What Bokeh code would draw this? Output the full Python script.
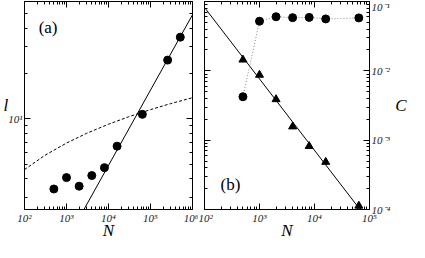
from bokeh.plotting import figure
from bokeh.layouts import row
from bokeh.models import LogAxis, FixedTicker, CustomJSTickFormatter, Label
from bokeh.embed import file_html
from bokeh.resources import INLINE

# ---------------- data: panel (a) ----------------
N_a = [500, 1000, 2000, 4000, 8000, 16000, 64000, 256000, 512000]
l_a = [3.42, 4.07, 3.57, 4.2, 4.74, 6.58, 10.7, 24.5, 34.8]
# fitted power law (solid)
fit_a_N = [2600, 1e6]
fit_a_l = [2.5, 49]
# dashed reference curve
ref_a_N = [1e2, 3e2, 1e3, 3e3, 1e4, 3e4, 1e5, 3e5, 1e6]
ref_a_l = [4.6, 5.7, 6.9, 8.0, 9.2, 10.3, 11.5, 12.6, 13.8]

# ---------------- data: panel (b) ----------------
N_b = [500, 1000, 2000, 4000, 8000, 16000, 64000]
C_circ = [0.00423, 0.052, 0.0603, 0.0585, 0.059, 0.0561, 0.058]
C_tri = [0.01445, 0.00873, 0.00388, 0.00157, 0.00082, 0.000484, 0.000113]
fit_b_N = [100, 67300]
fit_b_C = [0.082, 1e-4]

# ---------------- ticks ----------------
xa_ticks = [1e2, 1e3, 1e4, 1e5, 1e6]
xa_labels = ["10²", "10³", "10⁴", "10⁵", "10⁶"]
ya_ticks = [10]
ya_labels = ["10¹"]
ya_minor = [3, 4, 5, 6, 7, 8, 9, 20, 30, 40, 50]
xb_ticks = [1e2, 1e3, 1e4, 1e5]
xb_labels = ["10²", "10³", "10⁴", "10⁵"]
yb_ticks = [1e-4, 1e-3, 1e-2, 1e-1]
yb_labels = ["10⁻⁴", "10⁻³", "10⁻²", "10⁻¹"]

SERIF = "Liberation Serif"


def minors(lo_exp, hi_exp):
    return [m * 10.0 ** e for e in range(lo_exp, hi_exp) for m in range(2, 10)]


def fmt(tks, lbls):
    return CustomJSTickFormatter(args=dict(tks=tks, lbls=lbls), code="""
        let best = 0, bd = Infinity;
        for (let i = 0; i < tks.length; i++) {
            const d = Math.abs(Math.log10(tick) - Math.log10(tks[i]));
            if (d < bd) { bd = d; best = i; }
        }
        return bd < 0.01 ? lbls[best] : "";
    """)


def style_axis(ax, ticker, formatter, show_labels=True):
    ax.ticker = ticker
    ax.formatter = formatter
    ax.axis_line_color = "black"
    ax.major_tick_line_color = "black"
    ax.minor_tick_line_color = "black"
    ax.major_tick_in = 6
    ax.major_tick_out = 0
    ax.minor_tick_in = 3
    ax.minor_tick_out = 0
    ax.major_label_text_font = SERIF
    ax.major_label_text_font_style = "italic"
    ax.major_label_text_font_size = "11px" if show_labels else "0px"
    ax.major_label_text_color = "#222222"
    ax.major_label_standoff = 2 if show_labels else 0
    ax.axis_label_text_font = SERIF
    ax.axis_label_text_font_style = "italic"
    ax.axis_label_text_font_size = "17px"
    ax.axis_label_text_color = "black"
    ax.axis_label_standoff = 2


def base_fig(w, h, xr, yr, **kw):
    p = figure(width=w, height=h, x_axis_type="log", y_axis_type="log",
               x_range=xr, y_range=yr, output_backend="svg",
               toolbar_location=None, **kw)
    p.grid.visible = False
    p.outline_line_color = "black"
    p.outline_line_width = 1
    p.background_fill_color = "white"
    p.border_fill_color = "white"
    return p


def text_label(p, x, y, t, size):
    p.add_layout(Label(x=x, y=y, text=t, text_font=SERIF,
                       text_font_size=size, text_baseline="middle",
                       text_align="left", text_color="black"))


# ---------------- panel (a) ----------------
pa = base_fig(198, 242, (1e2, 1e6), (2.5, 60),
              min_border_left=18, min_border_right=6, min_border_top=1,
              min_border_bottom=0)
xa_ticker = FixedTicker(ticks=xa_ticks, minor_ticks=minors(2, 6))
ya_ticker = FixedTicker(ticks=ya_ticks, minor_ticks=ya_minor)
style_axis(pa.xaxis[0], xa_ticker, fmt(xa_ticks, xa_labels))
style_axis(pa.yaxis[0], ya_ticker, fmt(ya_ticks, ya_labels))
pa.xaxis[0].axis_label = "N"
pa.xaxis[0].axis_label_standoff = -6
pa.yaxis[0].axis_label = "l"
pa.yaxis[0].axis_label_orientation = "horizontal"
pa.yaxis[0].axis_label_standoff = -3
for loc, tk in (("above", xa_ticker), ("right", ya_ticker)):
    ax = LogAxis(axis_label=None)
    style_axis(ax, tk, CustomJSTickFormatter(code="return '';"), show_labels=False)
    pa.add_layout(ax, loc)

pa.line(ref_a_N, ref_a_l, line_color="black", line_width=1, line_dash="3 2")
pa.line(fit_a_N, fit_a_l, line_color="black", line_width=1)
pa.scatter(N_a, l_a, marker="circle", size=8, fill_color="black", line_color="black")
text_label(pa, 217, 40.6, "(a)", "17px")

# ---------------- panel (b) ----------------
pb = base_fig(211, 242, (1e2, 1e5), (1e-4, 1e-1), y_axis_location="right",
              min_border_left=6, min_border_right=8, min_border_top=1,
              min_border_bottom=0)
xb_ticker = FixedTicker(ticks=xb_ticks, minor_ticks=minors(2, 5))
yb_ticker = FixedTicker(ticks=yb_ticks, minor_ticks=minors(-4, -1))
style_axis(pb.xaxis[0], xb_ticker, fmt(xb_ticks, xb_labels))
style_axis(pb.yaxis[0], yb_ticker, fmt(yb_ticks, yb_labels))
pb.xaxis[0].axis_label = "N"
pb.xaxis[0].axis_label_standoff = -6
pb.yaxis[0].axis_label = "C"
pb.yaxis[0].axis_label_orientation = "horizontal"
pb.yaxis[0].axis_label_standoff = 2
for loc, tk in (("above", xb_ticker), ("left", yb_ticker)):
    ax = LogAxis(axis_label=None)
    style_axis(ax, tk, CustomJSTickFormatter(code="return '';"), show_labels=False)
    pb.add_layout(ax, loc)

pb.line(fit_b_N, fit_b_C, line_color="black", line_width=1)
pb.line(N_b, C_circ, line_color="#888888", line_width=1, line_dash="1 2")
pb.scatter(N_b, C_circ, marker="circle", size=8, fill_color="black", line_color="black")
pb.scatter(N_b, C_tri, marker="triangle", size=8, fill_color="black", line_color="black")
text_label(pb, 196, 2.27e-4, "(b)", "17px")

layout = row(pa, pb, spacing=0)
open("out.html", "w").write(file_html(layout, INLINE))
